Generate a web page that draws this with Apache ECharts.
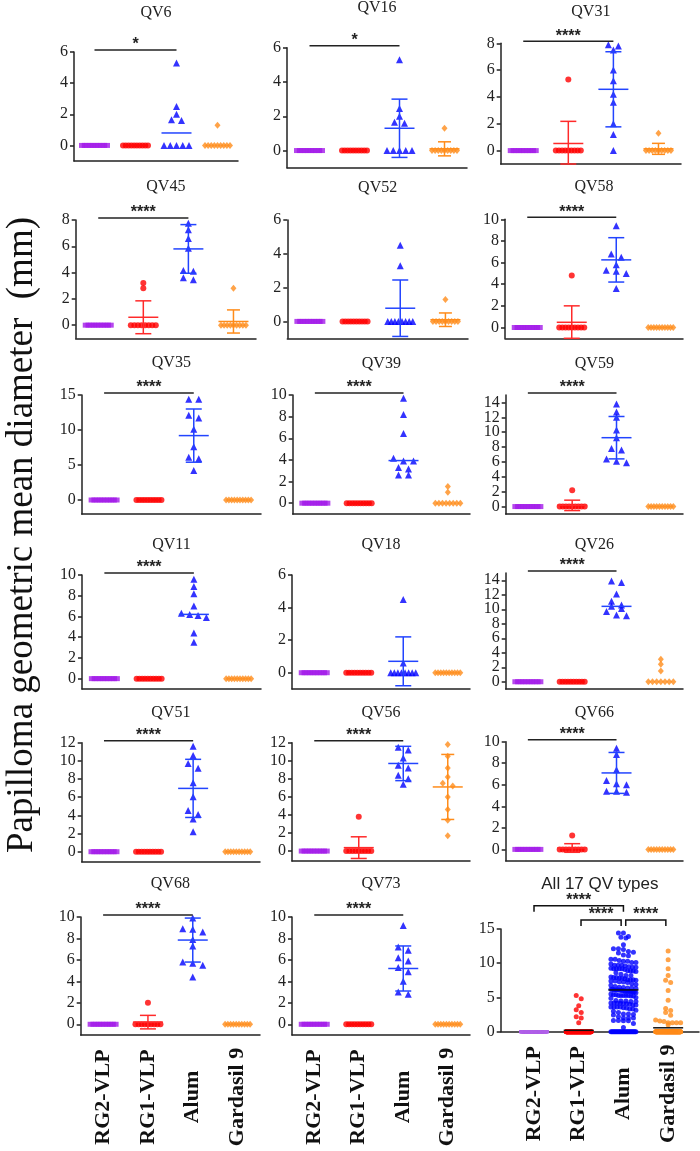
<!DOCTYPE html>
<html><head><meta charset="utf-8">
<script src="https://cdn.jsdelivr.net/npm/echarts@6/dist/echarts.min.js"></script>
<style>html,body{margin:0;padding:0;background:#fff}#c{width:700px;height:1151px}</style>
</head><body><div id="c"></div>
<script>
// ---------- categories ----------
const groups = ['RG2-VLP', 'RG1-VLP', 'Alum', 'Gardasil 9'];
const panelNames = ['QV6','QV16','QV31','QV45','QV52','QV58','QV35','QV39','QV59','QV11','QV18','QV26','QV51','QV56','QV66','QV68','QV73'];
const allTitle = 'All 17 QV types';
const yTitle = 'Papilloma geometric mean diameter  (mm)';

// ---------- tick labels ----------
const ticks6 = [0, 2, 4, 6];
const ticks8 = [0, 2, 4, 6, 8];
const ticks10 = [0, 2, 4, 6, 8, 10];
const ticks12 = [0, 2, 4, 6, 8, 10, 12];
const ticks14 = [0, 2, 4, 6, 8, 10, 12, 14];
const ticks15 = [0, 5, 10, 15];

// ---------- series values (per panel: RG2-VLP, RG1-VLP, Alum, Gardasil 9) ----------
const QV6 = [[0,0,0,0,0,0,0,0,0,0],[0,0,0,0,0,0,0,0,0,0],[5.3,2.5,2.0,1.65,1.6,0,0,0,0,0],[1.3,0,0,0,0,0,0,0,0,0]];
const QV6_mean = [null, null, 0.8, null];
const QV6_sd = [null, null, null, null];

const QV16 = [[0,0,0,0,0,0,0,0,0,0],[0,0,0,0,0,0,0,0,0,0],[5.3,2.45,2.0,1.65,1.6,0,0,0,0,0],[1.3,0,0,0,0,0,0,0,0,0]];
const QV16_mean = [null, null, 1.3, 0.1];
const QV16_sd = [null, null, 1.7, 0.41];

const QV31 = [[0,0,0,0,0,0,0,0,0,0],[5.3,0,0,0,0,0,0,0,0,0],[7.9,7.8,7.5,6.0,5.2,4.2,3.6,2.0,1.2,0],[1.3,0,0,0,0,0,0,0,0,0]];
const QV31_mean = [null, 0.53, 4.57, 0.13];
const QV31_sd = [null, 1.65, 2.8, 0.41];

const QV45 = [[0,0,0,0,0,0,0,0,0,0],[3.2,2.8,0,0,0,0,0,0,0,0],[7.75,7.25,6.6,5.85,4.15,4.1,3.6,3.45],[2.8,0,0,0,0,0,0,0,0,0]];
const QV45_mean = [null, 0.6, 5.8, 0.28];
const QV45_sd = [null, 1.25, 1.85, 0.88];

const QV52 = [[0,0,0,0,0,0,0,0,0,0],[0,0,0,0,0,0,0,0,0,0],[4.5,3.3,0,0,0,0,0,0,0,0],[1.3,0,0,0,0,0,0,0,0,0]];
const QV52_mean = [null, null, 0.78, 0.1];
const QV52_sd = [null, null, 1.67, 0.4];

const QV58 = [[0,0,0,0,0,0,0,0,0,0],[4.8,0,0,0,0,0,0,0,0,0],[9.4,6.8,6.5,5.8,5.3,5.2,5.0,3.6],[0,0,0,0,0,0,0,0,0,0]];
const QV58_mean = [null, 0.48, 6.25, null];
const QV58_sd = [null, 1.52, 2.05, null];

const QV35 = [[0,0,0,0,0,0,0,0,0,0],[0,0,0,0,0,0,0,0,0,0],[14.4,14.4,12.1,11.7,10.1,7.6,6.1,5.9,4.2],[0,0,0,0,0,0,0,0,0,0]];
const QV35_mean = [null, null, 9.2, null];
const QV35_sd = [null, null, 3.8, null];

const QV39 = [[0,0,0,0,0,0,0,0,0,0],[0,0,0,0,0,0,0,0,0,0],[9.7,8.2,6.45,4.15,3.9,3.9,3.3,3.15,2.6,2.6],[1.55,1.0,0,0,0,0,0,0,0,0]];
const QV39_mean = [null, null, 3.94, null];
const QV39_sd = [null, null, null, null];

const QV59 = [[0,0,0,0,0,0,0,0,0,0],[2.2,0,0,0,0,0,0,0,0,0],[13.8,12.7,12.0,10.3,9.25,7.8,7.6,6.4,6.1,5.9],[0,0,0,0,0,0,0,0,0,0]];
const QV59_mean = [null, 0.16, 9.26, null];
const QV59_sd = [null, 0.7, 2.85, null];

const QV11 = [[0,0,0,0,0,0,0,0,0,0],[0,0,0,0,0,0,0,0,0,0],[9.6,8.9,8.2,7.0,6.3,6.2,6.1,5.9,4.4,3.5],[0,0,0,0,0,0,0,0,0,0]];
const QV11_mean = [null, null, 6.2, null];
const QV11_sd = [null, null, null, null];

const QV18 = [[0,0,0,0,0,0,0,0,0,0],[0,0,0,0,0,0,0,0,0,0],[4.5,0.6,0,0,0,0,0,0,0,0],[0,0,0,0,0,0,0,0,0,0]];
const QV18_mean = [null, null, 0.7, null];
const QV18_sd = [null, null, 1.5, null];

const QV26 = [[0,0,0,0,0,0,0,0,0,0],[0,0,0,0,0,0,0,0,0,0],[13.9,13.7,12.1,11.1,10.6,10.4,10.1,9.7,9.2,9.1],[3.1,2.4,1.5,0,0,0,0,0,0,0]];
const QV26_mean = [null, null, 10.4, null];
const QV26_sd = [null, null, null, null];

const QV51 = [[0,0,0,0,0,0,0,0,0,0],[0,0,0,0,0,0,0,0,0,0],[11.6,10.6,9.7,9.2,7.6,6.05,4.55,4.1,3.6,2.2],[0,0,0,0,0,0,0,0,0,0]];
const QV51_mean = [null, null, 6.97, null];
const QV51_sd = [null, null, 3.2, null];

const QV56 = [[0,0,0,0,0,0,0,0,0,0],[3.8,0,0,0,0,0,0,0,0,0],[11.5,11.2,10.3,9.5,9.2,8.4,8.0,7.4],[11.8,10.5,9.2,8.2,7.5,7.2,6.0,4.6,3.4,1.7]];
const QV56_mean = [null, 0.38, 9.7, 7.1];
const QV56_sd = [null, 1.2, 1.9, 3.6];

const QV66 = [[0,0,0,0,0,0,0,0,0,0],[1.3,0,0,0,0,0,0,0,0,0],[9.4,8.8,7.4,6.4,6.1,6.0,5.4,5.4,5.3],[0,0,0,0,0,0,0,0,0,0]];
const QV66_mean = [null, 0.13, 7.1, null];
const QV66_sd = [null, 0.4, 1.9, null];

const QV68 = [[0,0,0,0,0,0,0,0,0,0],[2.0,0,0,0,0,0,0,0,0,0],[9.9,8.9,8.85,8.6,7.9,7.3,5.8,5.7,5.5,4.4],[0,0,0,0,0,0,0,0,0,0]];
const QV68_mean = [null, 0.2, 7.85, null];
const QV68_sd = [null, 0.63, 2.05, null];

const QV73 = [[0,0,0,0,0,0,0,0,0,0],[0,0,0,0,0,0,0,0,0,0],[9.2,7.2,6.9,6.2,5.9,5.3,4.9,4.0,3.0,2.8],[0,0,0,0,0,0,0,0,0,0]];
const QV73_mean = [null, null, 5.2, null];
const QV73_sd = [null, null, 2.1, null];

// pooled panel: mean lines
const ALL_mean = [null, 0.2, 6.1, 0.57];

// significance
const sigPanels = ['QV6','QV16','QV31','QV45','QV58','QV35','QV39','QV59','QV11','QV26','QV51','QV56','QV66','QV68','QV73'];
const sigLabels = ['*','*','****','****','****','****','****','****','****','****','****','****','****','****','****'];
const allPairs = [[0, 2], [1, 2], [2, 3]];
const allPairLevels = [0, 1, 1];
const allPairLabels = ['****', '****', '****'];

const panelData = {QV6:[QV6,QV6_mean,QV6_sd],QV16:[QV16,QV16_mean,QV16_sd],QV31:[QV31,QV31_mean,QV31_sd],
  QV45:[QV45,QV45_mean,QV45_sd],QV52:[QV52,QV52_mean,QV52_sd],QV58:[QV58,QV58_mean,QV58_sd],
  QV35:[QV35,QV35_mean,QV35_sd],QV39:[QV39,QV39_mean,QV39_sd],QV59:[QV59,QV59_mean,QV59_sd],
  QV11:[QV11,QV11_mean,QV11_sd],QV18:[QV18,QV18_mean,QV18_sd],QV26:[QV26,QV26_mean,QV26_sd],
  QV51:[QV51,QV51_mean,QV51_sd],QV56:[QV56,QV56_mean,QV56_sd],QV66:[QV66,QV66_mean,QV66_sd],
  QV68:[QV68,QV68_mean,QV68_sd],QV73:[QV73,QV73_mean,QV73_sd]};

// ---------- layout (pixels): left, right, top(axis max), bottom(axis min), min, max, ticks, titleY ----------
const layout = {
  QV6:[74,238,52,161,-1,6,ticks6,13], QV16:[287,467,47.7,167.7,-1,6,ticks6,8], QV31:[500.7,681,43.3,164,-1,8,ticks8,12],
  QV45:[75.7,256,220,338.3,-1,8,ticks8,187], QV52:[287.3,468,220,338.3,-1,6,ticks6,188], QV58:[505,683,219.3,338.3,-1,10,ticks10,187],
  QV35:[81.7,261,395,514,-2,15,ticks15,363], QV39:[292.7,470,395,514,-1,10,ticks10,364], QV59:[505.7,683,395,514,-1,15,ticks14,364],
  QV11:[82,261,575,689,-1,10,ticks10,545], QV18:[292,470,575,689,-1,6,ticks6,545], QV26:[505.7,683,573,689,-1,15,ticks14,545],
  QV51:[81.7,260,742.7,861.7,-1.1,12,ticks12,713], QV56:[292,470,742.7,861,-1.1,12,ticks12,713], QV66:[505.7,683,741.7,860.7,-1.05,10,ticks10,713],
  QV68:[80.7,260,917,1035,-1,10,ticks10,884], QV73:[292,470,917,1035,-1,10,ticks10,884]
};
const allLayout = [500.7, 699, 929, 1031.7, 0, 15, ticks15, 884, -0.745, 3.69];

const colors = ['#A31AE8', '#FF0000', '#0000FF', '#FF8C1A'];
const barColors = ['#A31AE8', '#FF2A2A', '#2244FF', '#FF8C1A'];
const symbols = ['rect', 'circle', 'triangle', 'diamond'];
const symSizes = [[6, 5], 6, 7, [6, 7]];
const SERIF = '"Liberation Serif", "Times New Roman", serif';
const SANS = '"Liberation Sans", Arial, sans-serif';

function swarm(vals, ppu, D, W, h) {
  const idx = vals.map((_, i) => i).sort((a, b) => vals[b] - vals[a]);
  const off = vals.map(() => 0);
  let row = [], rowTop = 0;
  const flush = () => {
    const n = row.length;
    const s = n > 1 ? Math.min(D, W / (n - 1)) : 0;
    row.forEach((id, k) => { off[id] = (k - (n - 1) / 2) * s; });
    row = [];
  };
  idx.forEach(id => {
    const y = vals[id] * ppu;
    if (row.length && rowTop - y < h) row.push(id);
    else { if (row.length) flush(); row = [id]; rowTop = y; }
  });
  if (row.length) flush();
  return off;
}

const grids = [], xAxes = [], yAxes = [], series = [], graphics = [];
const axisLineStyle = { color: '#222', width: 1.5 };

function addPanel(pi, name, L, vals, means, sds, opts) {
  const [left, right, top, bottom, ymin, ymax, ticks, titleY] = L;
  const xmin = opts.xmin, xmax = opts.xmax;
  grids.push({ left: left, top: top, width: right - left, height: bottom - top, containLabel: false });
  const bottomRow = opts.bottomRow;
  xAxes.push({
    type: 'value', gridIndex: pi, min: xmin, max: xmax,
    axisLine: { show: true, onZero: false, lineStyle: axisLineStyle },
    axisTick: { show: false }, splitLine: { show: false },
    axisLabel: bottomRow ? {
      show: true, customValues: [0, 1, 2, 3], formatter: v => groups[Math.round(v)],
      rotate: 90, align: 'center', verticalAlign: 'middle', margin: 62, interval: 0,
      showMinLabel: true, showMaxLabel: true, hideOverlap: false,
      fontFamily: SERIF, fontWeight: 'bold', fontSize: 22, color: '#111'
    } : { show: false }
  });
  yAxes.push({
    type: 'value', gridIndex: pi, min: ymin, max: ymax,
    axisLine: { show: true, onZero: false, lineStyle: axisLineStyle },
    axisTick: { show: true, length: 4, lineStyle: axisLineStyle, customValues: ticks, interval: 0 },
    axisLabel: { show: false },
    splitLine: { show: false }
  });
  // y tick labels, one text per tick value
  series.push({
    type: 'custom', xAxisIndex: pi, yAxisIndex: pi, silent: true, z: 2,
    data: ticks.map(t => [xmin, t]),
    renderItem: (params, api) => {
      const p = api.coord([api.value(0), api.value(1)]);
      return { type: 'text', style: { text: String(api.value(1)), x: params.coordSys.x - 6, y: p[1],
        align: 'right', verticalAlign: 'middle', font: '16px ' + SERIF, fill: '#222' } };
    }
  });
  const ppu = (bottom - top) / (ymax - ymin);
  const ppx = (right - left) / (xmax - xmin);
  vals.forEach((arr, g) => {
    const off = swarm(arr, ppu, opts.D, opts.W, opts.h);
    series.push({
      type: 'scatter', xAxisIndex: pi, yAxisIndex: pi, silent: true, clip: false, z: 3,
      symbol: opts.symbols[g], symbolSize: opts.sizes[g],
      itemStyle: { color: opts.colors[g] },
      data: arr.map((v, k) => [g + off[k] / ppx, v])
    });
  });
  // mean +/- SD
  const err = [];
  means.forEach((m, g) => { if (m !== null) err.push([g, m, sds[g] === null ? 0 : sds[g], g]); });
  series.push({
    type: 'custom', xAxisIndex: pi, yAxisIndex: pi, silent: true, z: 4, data: err,
    renderItem: (params, api) => {
      const g = api.value(3), m = api.value(1), sd = api.value(2);
      const col = opts.meanColors[g];
      const c = api.coord([api.value(0), m]);
      const st = { stroke: col, lineWidth: 1.5 };
      const ch = [{ type: 'line', shape: { x1: c[0] - 15, y1: c[1], x2: c[0] + 15, y2: c[1] }, style: st }];
      if (sd > 0) {
        const t = api.coord([api.value(0), Math.min(m + sd, ymax)]);
        const b = api.coord([api.value(0), Math.max(m - sd, ymin)]);
        const cw = g === 3 ? 6.5 : 8;
        ch.push({ type: 'line', shape: { x1: c[0], y1: t[1], x2: c[0], y2: b[1] }, style: st });
        ch.push({ type: 'line', shape: { x1: c[0] - cw, y1: t[1], x2: c[0] + cw, y2: t[1] }, style: st });
        ch.push({ type: 'line', shape: { x1: c[0] - cw, y1: b[1], x2: c[0] + cw, y2: b[1] }, style: st });
      }
      return { type: 'group', children: ch };
    }
  });
  // significance brackets
  if (opts.brackets.length) {
    series.push({
      type: 'custom', xAxisIndex: pi, yAxisIndex: pi, silent: true, z: 5,
      data: opts.brackets.map(b => [b[0], b[1], b[2]]),
      renderItem: (params, api) => {
        const i = params.dataIndex;
        const x1 = api.coord([api.value(0), 0])[0], x2 = api.coord([api.value(1), 0])[0];
        const topY = params.coordSys.y;
        const ch = [];
        if (opts.isAll) {
          const lvl = api.value(2);
          const y = lvl === 0 ? topY - 23.3 : topY - 9;
          const inset = lvl === 0 ? 0 : 2.3;
          const a = x1 + inset, b = x2 - inset;
          ch.push({ type: 'polyline', shape: { points: [[a, y + 6], [a, y], [b, y], [b, y + 6]] }, style: { stroke: '#111', lineWidth: 1.5, fill: null } });
          ch.push({ type: 'text', style: { text: opts.labels[i], x: (a + b) / 2, y: y - 5, align: 'center', verticalAlign: 'middle', font: 'bold 16px ' + SANS, fill: '#222' } });
        } else {
          const y = topY - 2;
          ch.push({ type: 'line', shape: { x1: x1, y1: y, x2: x2, y2: y }, style: { stroke: '#222', lineWidth: 1.5 } });
          ch.push({ type: 'text', style: { text: opts.labels[i], x: (x1 + x2) / 2, y: y - 5, align: 'center', verticalAlign: 'middle', font: 'bold 16px ' + SANS, fill: '#222' } });
        }
        return { type: 'group', children: ch };
      }
    });
  }
  graphics.push({
    type: 'text', x: (left + right) / 2, y: titleY,
    style: { text: name, align: 'center', verticalAlign: 'middle', font: opts.titleFont, fill: '#222' }
  });
}

panelNames.forEach((name, pi) => {
  const L = layout[name];
  const [vals, means, sds] = panelData[name];
  const si = sigPanels.indexOf(name);
  addPanel(pi, name, L, vals, means, sds, {
    xmin: -0.5, xmax: 3.5, bottomRow: name === 'QV68' || name === 'QV73',
    D: 10, W: 25, h: 5, symbols: symbols, sizes: symSizes, colors: colors, meanColors: barColors,
    brackets: si >= 0 ? [[0, 2, 0]] : [], labels: si >= 0 ? [sigLabels[si]] : [],
    titleFont: '16px ' + SERIF, isAll: false
  });
});

// pooled panel built from all panels
const pooled = [0, 1, 2, 3].map(g => panelNames.reduce((acc, n) => acc.concat(panelData[n][0][g]), []));
addPanel(panelNames.length, allTitle, allLayout.slice(0, 8), pooled, ALL_mean, [null, null, null, null], {
  xmin: allLayout[8], xmax: allLayout[9], bottomRow: true,
  D: 5, W: 25, h: 3.5, symbols: ['rect', 'circle', 'circle', 'circle'], sizes: [[5, 3], 5, 5, 5],
  colors: ['#B060E8', '#FF0000', '#0000FF', '#FF8C1A'], meanColors: ['#111', '#111', '#111', '#111'],
  brackets: allPairs.map((p, i) => [p[0], p[1], allPairLevels[i]]), labels: allPairLabels,
  titleFont: '17px ' + SANS, isAll: true
});

graphics.push({
  type: 'text', x: 22, y: 535, rotation: Math.PI / 2,
  style: { text: yTitle, align: 'center', verticalAlign: 'middle', font: '37px ' + SERIF, fill: '#111' }
});

const chart = echarts.init(document.getElementById('c'), null, { renderer: 'canvas' });
chart.setOption({
  animation: false, backgroundColor: '#fff',
  grid: grids, xAxis: xAxes, yAxis: yAxes, series: series, graphic: graphics
});
</script></body></html>
